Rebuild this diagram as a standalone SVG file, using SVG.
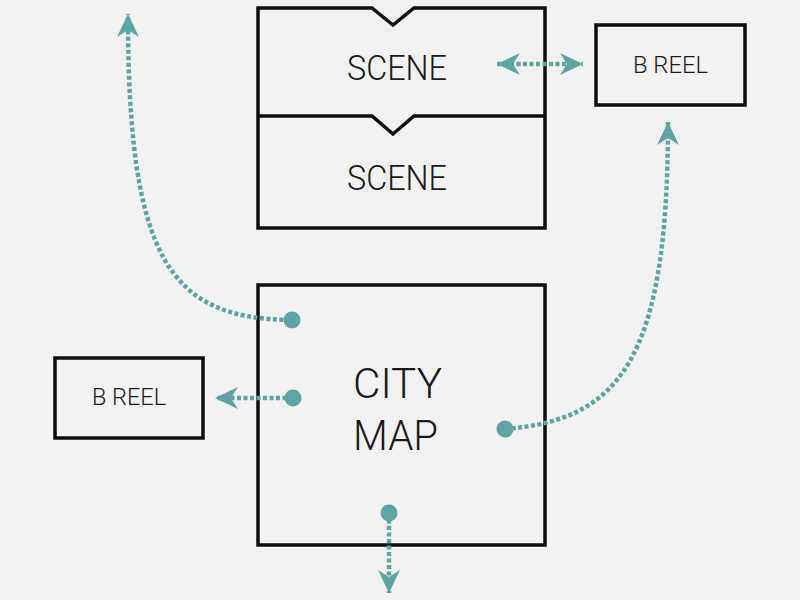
<svg xmlns="http://www.w3.org/2000/svg" width="800" height="600" viewBox="0 0 800 600">
<style>
.box{fill:none;stroke:#0d0d0d;stroke-width:3.5;stroke-linejoin:miter}
.lbl{font-family:Roboto,"Liberation Sans",Arial,sans-serif;font-weight:300;fill:#1a1a1a;text-anchor:start}
.con{fill:none;stroke:#5fa3a3;stroke-width:4.5;stroke-dasharray:4 2.5}
.dot{fill:#5fa3a3}
</style>
<defs>
<marker id="arr" viewBox="-24 -12 26 24" refX="0" refY="0" markerWidth="26" markerHeight="24" markerUnits="userSpaceOnUse" orient="auto-start-reverse">
<path d="M0,0 L-23,-11 L-16,0 L-23,11 Z" fill="#5fa3a3"/>
</marker>
</defs>
<rect width="800" height="600" fill="#f2f2f2"/>
<g id="scenes">
<path class="box" d="M258,8 L372,8 L393,25 L414,8 L545,8 L545,228 L258,228 Z"/>
<path class="box" d="M258,116 L372,116 L393,134 L414,116 L545,116"/>
<text class="lbl" x="347" y="80" font-size="35" textLength="100" lengthAdjust="spacingAndGlyphs">SCENE</text>
<text class="lbl" x="347" y="190" font-size="35" textLength="100" lengthAdjust="spacingAndGlyphs">SCENE</text>
</g>
<g id="breel-right">
<rect class="box" x="596" y="25" width="149" height="80"/>
<text class="lbl" x="633" y="73" font-size="24" textLength="75" lengthAdjust="spacingAndGlyphs">B REEL</text>
</g>
<g id="breel-left">
<rect class="box" x="55" y="358" width="148" height="80"/>
<text class="lbl" x="92" y="405" font-size="24" textLength="74" lengthAdjust="spacingAndGlyphs">B REEL</text>
</g>
<g id="citymap">
<rect class="box" x="258" y="285" width="287" height="260"/>
<text class="lbl" x="353" y="398" font-size="43" textLength="89" lengthAdjust="spacingAndGlyphs">CITY</text>
<text class="lbl" x="353" y="450" font-size="43" textLength="85" lengthAdjust="spacingAndGlyphs">MAP</text>
</g>
<g id="connectors">
<path class="con" d="M290,320 C170,318 128,260 128,14" marker-end="url(#arr)"/>
<circle class="dot" cx="292" cy="320" r="8.5"/>
<path class="con" d="M293,398 L215,398" marker-end="url(#arr)"/>
<circle class="dot" cx="293" cy="398" r="8.5"/>
<path class="con" d="M505,429 C620,420 668,360 668,122" marker-end="url(#arr)"/>
<circle class="dot" cx="505" cy="429" r="8.5"/>
<path class="con" d="M389,513 L389,593" marker-end="url(#arr)"/>
<circle class="dot" cx="389" cy="513" r="8.5"/>
<path class="con" d="M497,64 L583,64" marker-start="url(#arr)" marker-end="url(#arr)"/>
</g>
</svg>
